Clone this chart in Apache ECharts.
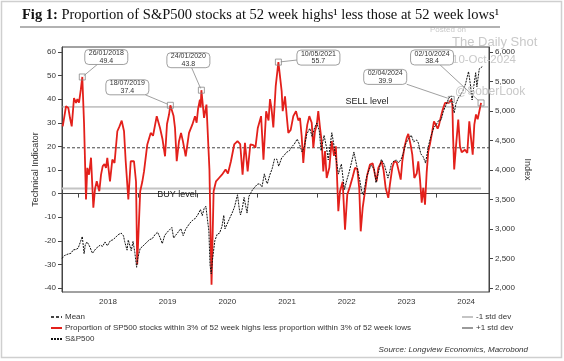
<!DOCTYPE html>
<html><head><meta charset="utf-8">
<script src="https://cdn.jsdelivr.net/npm/echarts@6/dist/echarts.min.js"></script>
<style>html,body{margin:0;padding:0;background:#fff}#c{width:564px;height:361px}</style>
</head><body><div id="c"></div>
<script>
// ---- data (decimal years) ----
const redX = [2017.742,2017.772,2017.797,2017.836,2017.864,2017.893,2017.931,2017.965,2017.987,2018.015,2018.045,2018.07,2018.099,2018.132,2018.154,2018.183,2018.216,2018.255,2018.283,2018.312,2018.355,2018.384,2018.412,2018.442,2018.467,2018.489,2018.534,2018.573,2018.61,2018.657,2018.693,2018.73,2018.769,2018.797,2018.841,2018.881,2018.911,2018.936,2018.97,2018.99,2019.04,2019.075,2019.104,2019.159,2019.216,2019.255,2019.317,2019.372,2019.414,2019.456,2019.489,2019.523,2019.545,2019.598,2019.623,2019.652,2019.69,2019.724,2019.757,2019.802,2019.858,2019.913,2019.958,2019.985,2020.01,2020.04,2020.052,2020.065,2020.11,2020.15,2020.2,2020.235,2020.27,2020.31,2020.36,2020.41,2020.47,2020.51,2020.56,2020.615,2020.67,2020.715,2020.755,2020.795,2020.84,2020.885,2020.935,2020.97,2021.01,2021.065,2021.105,2021.15,2021.19,2021.215,2021.24,2021.27,2021.31,2021.355,2021.41,2021.427,2021.466,2021.494,2021.521,2021.561,2021.605,2021.65,2021.688,2021.717,2021.745,2021.772,2021.801,2021.839,2021.873,2021.913,2021.94,2021.968,2021.997,2022.023,2022.052,2022.08,2022.107,2022.136,2022.164,2022.208,2022.248,2022.286,2022.318,2022.359,2022.387,2022.432,2022.471,2022.509,2022.554,2022.599,2022.638,2022.677,2022.71,2022.734,2022.767,2022.806,2022.844,2022.889,2022.935,2022.973,2023.0,2023.029,2023.085,2023.116,2023.152,2023.196,2023.224,2023.263,2023.296,2023.337,2023.363,2023.404,2023.43,2023.464,2023.504,2023.531,2023.571,2023.598,2023.632,2023.672,2023.698,2023.727,2023.756,2023.782,2023.811,2023.839,2023.866,2023.894,2023.923,2023.961,2023.995,2024.023,2024.045,2024.079,2024.107,2024.146,2024.21,2024.25,2024.27,2024.28,2024.3,2024.33,2024.368,2024.397,2024.425,2024.452,2024.481,2024.519,2024.553,2024.581,2024.61,2024.637,2024.665,2024.693,2024.75];
const redY = [28.5,33,37,36.3,32,28.5,40.5,38.4,40,38.5,44,49.4,30,-2.5,10.9,8,15.2,-6,2,5.2,1,8,11.6,12.5,10.9,15.1,5.2,14.4,13,26.4,28.5,30.9,26.4,13.7,-2.5,13.7,14.5,13.7,5,-30,1,5,9.4,20.8,25.7,24.5,32.8,27.8,23,15.8,29.5,33.5,37.4,33,27.8,13.7,22.2,25.7,22,15.8,25.7,29.2,32.8,30,36,39.8,36.5,43.8,32.1,37.7,10,-38.6,1,5.2,6.6,8,10.2,8.5,13.7,20.8,22.2,21,8,21.5,9.4,20.8,20.5,19.5,27.8,32.8,14.4,34.9,31,40,36,28,45.5,55.7,43.3,34.9,41.2,33,25.7,27,32.8,34.9,31,32,24.3,13,22,29.2,32.8,30,19.4,26.4,29,34.9,28,22,9.4,18,6.6,10.9,22.2,16,20,-7.5,1,5,-15.3,-0.4,3,7,10.9,10.5,2,-16,-6,1,8,12.3,12.8,8,5.2,10.9,13.7,10,2.4,-1.8,4,10.9,13.7,13.2,12.5,5.9,13.5,19.4,23.6,25.3,20.5,16.5,6.6,8.5,13.7,6,-3.9,2.4,-4.7,9,17.9,21,25,30.6,29,27.5,29,32.8,35.5,38.4,38.4,39.9,37.5,25,10.2,20,31.4,20,17.5,18,18.6,17.2,30.6,30,16.5,29.2,33.5,31.5,38.4];

const spxX = [2017.73,2017.77,2017.83,2017.88,2017.92,2017.96,2018.0,2018.04,2018.07,2018.1,2018.12,2018.15,2018.19,2018.24,2018.26,2018.3,2018.33,2018.37,2018.41,2018.45,2018.49,2018.54,2018.58,2018.62,2018.67,2018.72,2018.76,2018.78,2018.82,2018.84,2018.89,2018.92,2018.95,2018.98,2019.0,2019.04,2019.08,2019.12,2019.16,2019.2,2019.24,2019.29,2019.33,2019.37,2019.41,2019.45,2019.49,2019.53,2019.57,2019.6,2019.63,2019.66,2019.72,2019.76,2019.8,2019.83,2019.87,2019.91,2019.95,2020.0,2020.05,2020.08,2020.11,2020.14,2020.17,2020.19,2020.21,2020.23,2020.25,2020.29,2020.33,2020.37,2020.41,2020.44,2020.46,2020.49,2020.54,2020.58,2020.62,2020.67,2020.7,2020.72,2020.75,2020.78,2020.83,2020.86,2020.92,2020.96,2021.0,2021.04,2021.08,2021.12,2021.15,2021.17,2021.21,2021.25,2021.29,2021.33,2021.36,2021.41,2021.45,2021.49,2021.54,2021.58,2021.62,2021.67,2021.71,2021.75,2021.79,2021.83,2021.88,2021.92,2021.96,2022.0,2022.04,2022.07,2022.12,2022.16,2022.19,2022.25,2022.29,2022.33,2022.36,2022.39,2022.41,2022.46,2022.5,2022.54,2022.58,2022.62,2022.67,2022.71,2022.75,2022.78,2022.83,2022.87,2022.91,2022.96,2022.99,2023.04,2023.08,2023.13,2023.19,2023.22,2023.25,2023.29,2023.33,2023.37,2023.41,2023.45,2023.49,2023.54,2023.58,2023.62,2023.67,2023.7,2023.74,2023.78,2023.82,2023.87,2023.91,2023.96,2024.0,2024.04,2024.08,2024.12,2024.16,2024.21,2024.25,2024.3,2024.33,2024.37,2024.41,2024.45,2024.49,2024.54,2024.57,2024.6,2024.63,2024.66,2024.68,2024.72,2024.75,2024.77];
const spxY = [2502,2549,2575,2588,2647,2652,2674,2786,2873,2581,2732,2780,2712,2588,2582,2670,2648,2727,2705,2780,2716,2801,2816,2850,2902,2931,2885,2786,2641,2814,2633,2790,2600,2351,2507,2671,2704,2745,2784,2822,2834,2907,2946,2860,2752,2890,2942,2985,3026,2845,2889,2926,3006,2887,2993,3038,3096,3141,3168,3231,3330,3226,3345,3386,3130,2972,2386,2237,2470,2800,2912,2930,3044,3232,3002,3009,3185,3271,3373,3580,3340,3237,3348,3534,3270,3550,3662,3709,3756,3768,3714,3934,3811,3768,3913,4020,4185,4181,4063,4204,4247,4298,4327,4395,4437,4523,4433,4307,4391,4605,4705,4567,4712,4796,4663,4326,4587,4385,4170,4631,4392,4132,3930,3901,4101,3667,3825,3962,4130,4305,4058,3873,3640,3577,3872,3992,4080,4017,3783,3999,4179,4090,3862,3971,4109,4151,4169,4124,4180,4298,4450,4536,4589,4478,4508,4457,4274,4224,4117,4415,4568,4719,4770,4840,4846,4997,5096,5218,5254,4967,5128,5222,5278,5347,5460,5667,5459,5186,5434,5648,5408,5713,5709,5751];

const meanValue = 19.4, plusStd = 36.7, minusStd = 2.1;

const annX = [2018.07, 2019.545, 2020.065, 2021.355, 2024.25, 2024.75];
const annY = [49.4, 37.4, 43.8, 55.7, 39.9, 38.4];
const annDate = ['26/01/2018','18/07/2019','24/01/2020','10/05/2021','02/04/2024','02/10/2024'];

const yearTicks = [2018,2019,2020,2021,2022,2023,2024];
const leftTicks = [-40,-30,-20,-10,0,10,20,30,40,50,60];
const rightTicks = [2000,2500,3000,3500,4000,4500,5000,5500,6000];

// ---- layout ----
const X_MIN = 2017.73, X_MAX = 2024.883;
const L_MIN = -41.7, L_MAX = 62.1;
const R_MIN = 1932, R_MAX = 6084;
const SANS = 'Liberation Sans, Arial, sans-serif';
const AX = '#444';

const zip = (a, b) => a.map((v, i) => [v, b[i]]);

const chart = echarts.init(document.getElementById('c'), null, {renderer: 'canvas'});
const legendCommon = {orient: 'vertical', top: 308, itemWidth: 11, itemHeight: 8, itemGap: 3,
  itemStyle: {opacity: 0},
  textStyle: {fontFamily: SANS, fontSize: 8, color: '#333', padding: [0,0,0,-2]}};
const option = {
  animation: false,
  backgroundColor: '#fff',
  grid: {left: 62, right: 75, top: 47, bottom: 69, show: true, borderColor: AX, borderWidth: 1},
  xAxis: {
    type: 'value', min: X_MIN, max: X_MAX,
    axisLine: {show: true, lineStyle: {color: AX}},
    splitLine: {show: false},
    axisTick: {show: true, length: 4, lineStyle: {color: AX}, customValues: yearTicks},
    axisLabel: {customValues: yearTicks.map(y => y + 0.5), formatter: v => String(Math.floor(v)),
      fontFamily: SANS, fontSize: 8, color: '#333', margin: 6}
  },
  yAxis: [
    {type: 'value', min: L_MIN, max: L_MAX, position: 'left',
      name: 'Technical Indicator', nameLocation: 'middle', nameGap: 22, nameRotate: 90, nameMoveOverlap: false,
      nameTextStyle: {fontFamily: SANS, fontSize: 9, color: '#333'},
      axisLine: {show: true, lineStyle: {color: AX}},
      splitLine: {show: false},
      axisTick: {show: true, length: 4, lineStyle: {color: AX}, customValues: leftTicks},
      axisLabel: {customValues: leftTicks, fontFamily: SANS, fontSize: 8, color: '#333', margin: 6}
    },
    {type: 'value', min: R_MIN, max: R_MAX, position: 'right',
      name: 'Index', nameLocation: 'middle', nameGap: 34, nameRotate: -90, nameMoveOverlap: false,
      nameTextStyle: {fontFamily: SANS, fontSize: 9, color: '#333'},
      axisLine: {show: true, lineStyle: {color: AX}},
      splitLine: {show: false},
      axisTick: {show: true, length: 4, lineStyle: {color: AX}, customValues: rightTicks},
      axisLabel: {customValues: rightTicks, fontFamily: SANS, fontSize: 8, color: '#333', margin: 6}
    }
  ],
  legend: [
    Object.assign({left: 45, data: ['Mean', 'Proportion of SP500 stocks within 3% of 52 week highs less proportion within 3% of 52 week lows', 'S&P500']}, legendCommon),
    Object.assign({left: 456, data: ['-1 std dev', '+1 std dev']}, legendCommon)
  ],
  series: [
    {name: '-1 std dev', type: 'line', symbol: 'none', z: 1, itemStyle: {color: '#c4c4c4'},
      lineStyle: {color: '#c4c4c4', width: 2}, data: [[X_MIN, minusStd], [2024.75, minusStd]]},
    {name: '+1 std dev', type: 'line', symbol: 'none', z: 1, itemStyle: {color: '#9a9a9a'},
      lineStyle: {color: '#9a9a9a', width: 1}, data: [[X_MIN, plusStd], [X_MAX, plusStd]]},
    {name: 'Mean', type: 'line', symbol: 'none', z: 2, itemStyle: {color: '#444'},
      lineStyle: {color: '#444', width: 1, type: [3, 2]}, data: [[X_MIN, meanValue], [X_MAX, meanValue]]},
    {name: 'Proportion of SP500 stocks within 3% of 52 week highs less proportion within 3% of 52 week lows',
      type: 'line', symbol: 'none', z: 3, itemStyle: {color: '#e3201b'},
      lineStyle: {color: '#e3201b', width: 1.8}, data: zip(redX, redY),
      markPoint: {symbol: 'rect', symbolSize: 6, silent: true,
        itemStyle: {color: 'rgba(255,255,255,0)', borderColor: '#888', borderWidth: 0.8, opacity: 1},
        label: {show: false},
        data: annX.map((x, i) => ({coord: [x, annY[i]]}))}
    },
    {name: 'S&P500', type: 'line', symbol: 'none', yAxisIndex: 1, z: 4, itemStyle: {color: '#111'},
      lineStyle: {color: '#111', width: 1, type: [2, 1]}, data: zip(spxX, spxY)}
  ]
};
chart.setOption(option);

// ---- annotation callouts and text ----
const boxOffsets = [[24,-20],[-43,-18],[-13,-30],[40,-4.5],[-66,-22.5],[-49,-45.5]];
const BW = 43, BH = 15;
const g = [];
annX.forEach((x, i) => {
  const p = chart.convertToPixel({xAxisIndex: 0, yAxisIndex: 0}, [x, annY[i]]);
  const cx = p[0] + boxOffsets[i][0], cy = p[1] + boxOffsets[i][1];
  const dx = p[0] - cx, dy = p[1] - cy;
  const t = Math.min((BW/2)/Math.abs(dx || 1e-6), (BH/2)/Math.abs(dy || 1e-6));
  g.push({type: 'line', z: 50, shape: {x1: cx + dx*t, y1: cy + dy*t, x2: p[0] - dx*0.06, y2: p[1] - dy*0.06},
    style: {stroke: '#888', lineWidth: 0.8}});
  g.push({type: 'rect', z: 51, shape: {x: cx - BW/2, y: cy - BH/2, width: BW, height: BH, r: 4},
    style: {fill: '#fff', stroke: '#888', lineWidth: 0.8}});
  g.push({type: 'text', z: 52, x: cx, y: cy, style: {text: annDate[i] + '\n' + annY[i].toFixed(1),
    fontFamily: SANS, fontSize: 7, lineHeight: 7.5, fill: '#333', align: 'center', verticalAlign: 'middle'}});
});
const sellP = chart.convertToPixel({xAxisIndex: 0, yAxisIndex: 0}, [2022.84, plusStd]);
const buyP = chart.convertToPixel({xAxisIndex: 0, yAxisIndex: 0}, [2019.657, minusStd]);
g.push({type: 'text', z: 40, x: sellP[0], y: sellP[1] - 5, style: {text: 'SELL level', fontFamily: SANS, fontSize: 9, fill: '#222', align: 'center', verticalAlign: 'middle'}});
g.push({type: 'text', z: 40, x: buyP[0], y: buyP[1] + 6, style: {text: 'BUY level', fontFamily: SANS, fontSize: 9, fill: '#222', align: 'center', verticalAlign: 'middle'}});

// title
g.push({type: 'text', z: 60, x: 22, y: 15, style: {
  text: '{b|Fig 1:} Proportion of S&P500 stocks at 52 week highs¹ less those at 52 week lows¹',
  fontFamily: 'Liberation Serif, serif', fontSize: 14.5, fill: '#111', verticalAlign: 'middle',
  rich: {b: {fontFamily: 'Liberation Serif, serif', fontSize: 14.5, fontWeight: 'bold', fill: '#111'}}}});
g.push({type: 'line', z: 60, shape: {x1: 20, y1: 27, x2: 500, y2: 27}, style: {stroke: '#999', lineWidth: 1.5}});
// frame
g.push({type: 'rect', z: 0, shape: {x: 1.5, y: 1.5, width: 560, height: 356}, style: {fill: 'none', stroke: '#cfcfcf', lineWidth: 1.5}});
// watermark
const wm = '#c9c9c9';
g.push({type: 'text', z: 45, x: 430, y: 30, style: {text: 'Posted on', fontFamily: SANS, fontSize: 8, fill: wm, verticalAlign: 'middle'}});
g.push({type: 'text', z: 45, x: 452, y: 42, style: {text: 'The Daily Shot', fontFamily: SANS, fontSize: 13, fill: wm, verticalAlign: 'middle'}});
g.push({type: 'text', z: 45, x: 452, y: 60, style: {text: '10-Oct-2024', fontFamily: SANS, fontSize: 11.5, fill: wm, verticalAlign: 'middle'}});
g.push({type: 'text', z: 45, x: 455, y: 92, style: {text: '@SoberLook', fontFamily: SANS, fontSize: 12, fill: wm, verticalAlign: 'middle'}});
// source
g.push({type: 'text', z: 45, x: 528, y: 350, style: {text: 'Source: Longview Economics, Macrobond', fontFamily: SANS, fontSize: 8, fontStyle: 'italic', fill: '#333', align: 'right', verticalAlign: 'middle'}});

chart.setOption({graphic: g});
</script></body></html>
